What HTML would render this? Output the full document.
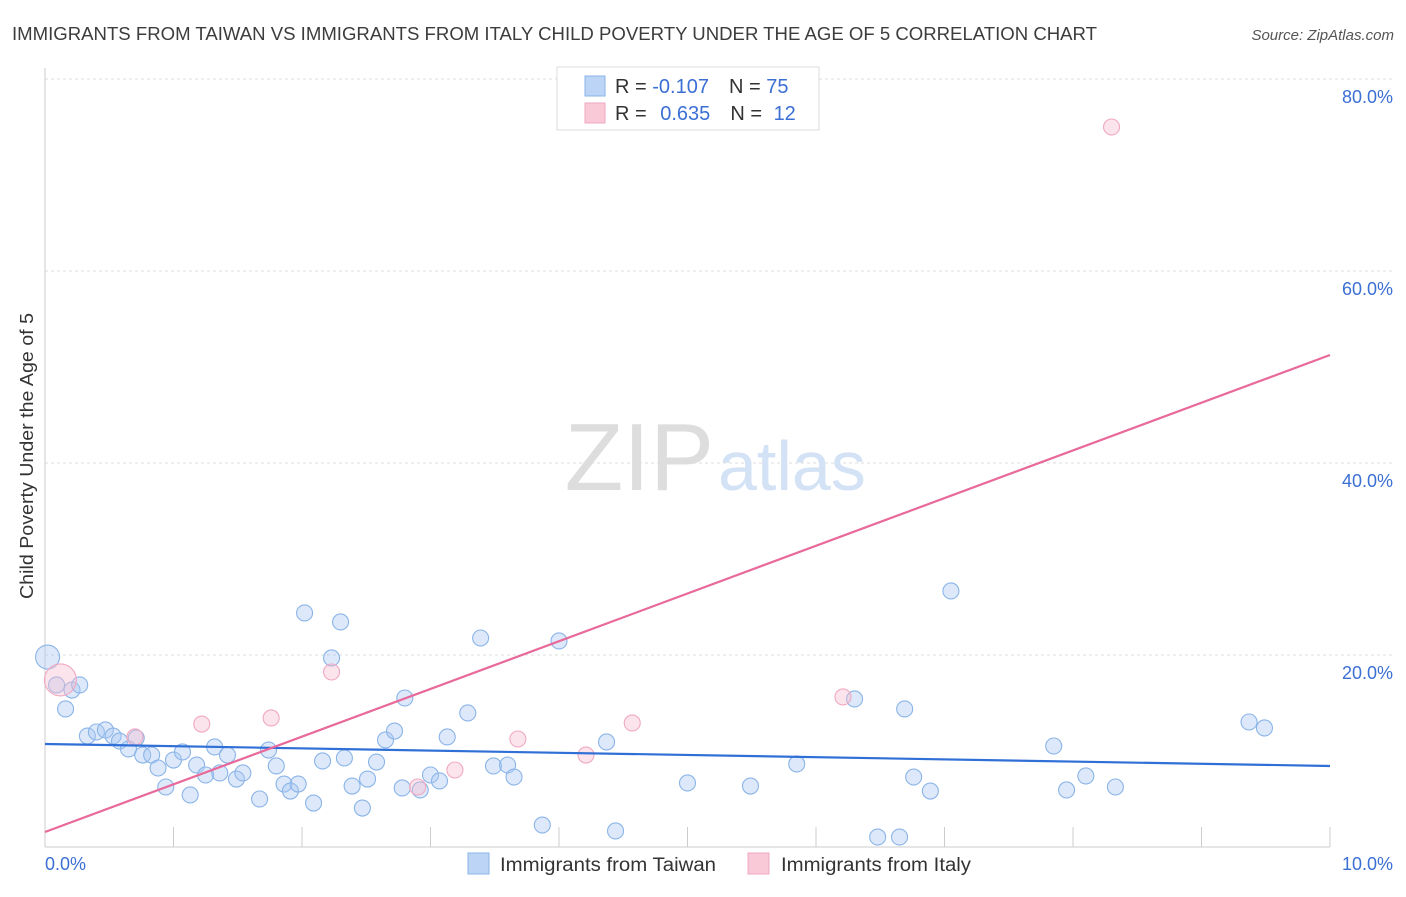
<!DOCTYPE html>
<html><head><meta charset="utf-8"><style>
body{margin:0;background:#fff;font-family:"Liberation Sans",sans-serif;}
svg text{font-family:"Liberation Sans",sans-serif;}
</style></head><body>
<svg id="chart" width="1406" height="892" xmlns="http://www.w3.org/2000/svg">
<text x="12" y="40" font-size="18" fill="#3c3c3c" textLength="1085" lengthAdjust="spacingAndGlyphs">IMMIGRANTS FROM TAIWAN VS IMMIGRANTS FROM ITALY CHILD POVERTY UNDER THE AGE OF 5 CORRELATION CHART</text>
<text x="1394" y="40" font-size="15" fill="#555" text-anchor="end" font-style="italic">Source: ZipAtlas.com</text>
<text transform="translate(33,456) rotate(-90)" font-size="18" fill="#333" text-anchor="middle" textLength="286" lengthAdjust="spacingAndGlyphs">Child Poverty Under the Age of 5</text>
<g id="grid"></g>
<text x="714" y="490" font-size="96" text-anchor="end" fill="#ddd" font-family="Liberation Serif">ZIP</text>
<text x="718" y="490" font-size="70" fill="#d3e2f5">atlas</text>
<g id="pts"></g>
<g id="lines"></g>
<g>
<rect x="557" y="67" width="262" height="63" fill="#fff" stroke="#ddd"/>
<rect x="585" y="76" width="20" height="20" fill="#bcd4f5" stroke="#8ab4e8"/>
<rect x="585" y="103" width="20" height="20" fill="#f9c9d8" stroke="#f0a8c0"/>
<text x="615" y="93" font-size="20" fill="#333">R = <tspan fill="#3b6fd4">-0.107</tspan><tspan dx="20">N = </tspan><tspan fill="#3b6fd4">75</tspan></text>
<text x="615" y="120" font-size="20" fill="#333">R = <tspan fill="#3b6fd4" dx="8">0.635</tspan><tspan dx="20">N = </tspan><tspan fill="#3b6fd4" dx="6">12</tspan></text>
</g>
<g>
<rect x="468" y="853" width="21" height="21" fill="#bcd4f5" stroke="#8ab4e8"/>
<text x="500" y="871" font-size="19" fill="#333" textLength="216" lengthAdjust="spacingAndGlyphs">Immigrants from Taiwan</text>
<rect x="748" y="853" width="21" height="21" fill="#f9c9d8" stroke="#f0a8c0"/>
<text x="781" y="871" font-size="19" fill="#333" textLength="190" lengthAdjust="spacingAndGlyphs">Immigrants from Italy</text>
</g>
<text x="45" y="870" font-size="18" fill="#3b6fd4">0.0%</text>
<text x="1393" y="870" font-size="18" fill="#3b6fd4" text-anchor="end">10.0%</text>
</svg>
<script>
const blueX=[0.02,0.09,0.21,0.27,0.16,0.33,0.40,0.47,0.53,0.58,0.65,0.71,0.76,0.83,0.88,0.94,1.00,1.07,1.13,1.18,1.25,1.32,1.36,1.42,1.49,1.54,1.67,1.74,1.80,1.86,1.91,1.97,2.02,2.09,2.16,2.23,2.30,2.33,2.39,2.47,2.51,2.58,2.65,2.72,2.78,2.80,2.92,3.00,3.07,3.13,3.29,3.39,3.49,3.60,3.65,3.87,4.00,4.37,4.44,5.00,5.49,5.85,6.30,6.48,6.65,6.69,6.76,6.89,7.05,7.85,7.95,8.10,8.33,9.37,9.49];
const blueY=[19.79,16.88,16.35,16.88,14.38,11.56,11.98,12.19,11.56,11.04,10.21,11.35,9.58,9.58,8.23,6.25,9.06,9.90,5.42,8.54,7.50,10.42,7.71,9.58,7.08,7.71,5.00,10.10,8.44,6.56,5.83,6.56,24.38,4.58,8.96,19.69,23.44,9.27,6.35,4.06,7.08,8.85,11.15,12.08,6.15,15.52,5.94,7.50,6.88,11.46,13.96,21.77,8.44,8.54,7.29,2.29,21.46,10.94,1.67,6.67,6.35,8.65,15.42,1.04,1.04,14.38,7.29,5.83,26.67,10.52,5.94,7.40,6.25,13.02,12.40];
const pinkX=[0.12,0.70,1.22,1.76,2.23,2.90,3.19,3.68,4.21,4.57,6.21,8.30];
const pinkY=[17.40,11.46,12.81,13.44,18.23,6.25,8.02,11.25,9.58,12.92,15.63,75.0];
const blueTrend=[10.73,8.44];
const pinkTrend=[1.56,51.25];
const yTicks=[20,40,60,80];
const yTickLabels=["20.0%","40.0%","60.0%","80.0%"];
const xTicks=[0,1,2,3,4,5,6,7,8,9,10];
const NS="http://www.w3.org/2000/svg";
const sx=v=>45+v*128.5, sy=v=>847-v*9.6;
function mk(t,a,p){const e=document.createElementNS(NS,t);for(const k in a)e.setAttribute(k,a[k]);p.appendChild(e);return e;}
const g=document.getElementById('grid');
mk('line',{x1:45,y1:68,x2:45,y2:847,stroke:'#ccc'},g);
mk('line',{x1:45,y1:847,x2:1330,y2:847,stroke:'#ccc'},g);
mk('line',{x1:45,y1:sy(80),x2:1393,y2:sy(80),stroke:'#ddd','stroke-dasharray':'3,3'},g);
yTicks.forEach((v,i)=>{
 const l=mk('line',{x1:45,y1:sy(v),x2:1393,y2:sy(v),stroke:'#ddd','stroke-dasharray':'3,3'},g);
 
 
 const t=mk('text',{x:1393,y:sy(v)+24,'font-size':18,fill:'#3b6fd4','text-anchor':'end'},g);
 t.textContent=yTickLabels[i];
 
 
});
xTicks.forEach(v=>{
 const l=mk('line',{x1:sx(v),y1:827,x2:sx(v),y2:847,stroke:'#ccc'},g);
 
 
});
const p=document.getElementById('pts');
blueX.forEach((x,i)=>{
 const c=mk('circle',{cx:sx(x),cy:sy(blueY[i]),r:i==0?12:8,fill:'rgba(170,200,242,0.4)',stroke:'#8ab4e8','stroke-width':1.1},p);
 
 
});
pinkX.forEach((x,i)=>{
 const c=mk('circle',{cx:sx(x),cy:sy(pinkY[i]),r:i==0?16:8,fill:'rgba(247,188,207,0.4)',stroke:'#f0a8c0','stroke-width':1.1},p);
 
 
});
const L=document.getElementById('lines');
const bl=mk('line',{x1:sx(0),y1:sy(blueTrend[0]),x2:sx(10),y2:sy(blueTrend[1]),stroke:'#2f6fd6','stroke-width':2.2},L);


const pl=mk('line',{x1:sx(0),y1:sy(pinkTrend[0]),x2:sx(10),y2:sy(pinkTrend[1]),stroke:'#e8699a','stroke-width':2.2},L);


</script>
</body></html>
